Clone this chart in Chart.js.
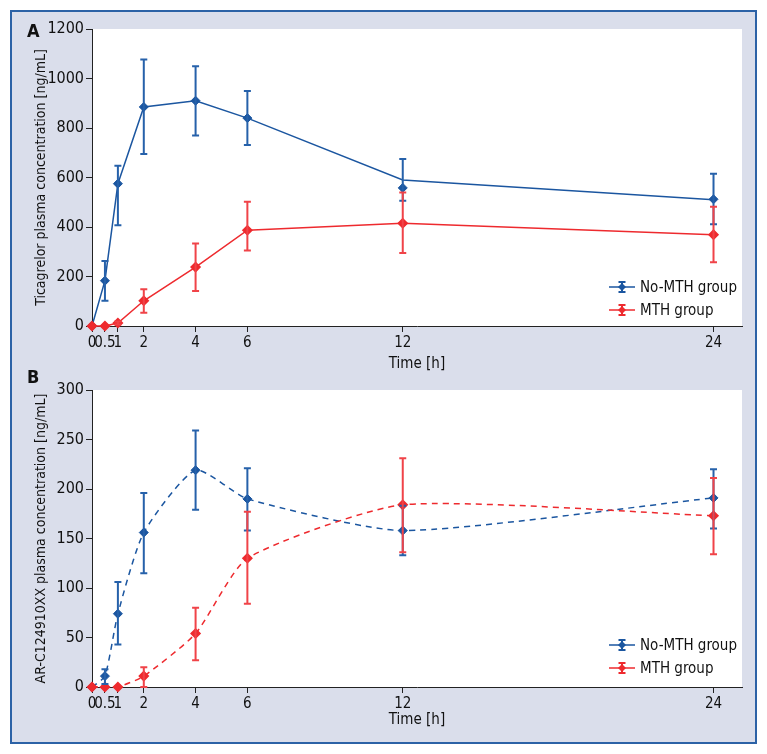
<!DOCTYPE html>
<html>
<head>
<meta charset="utf-8">
<script src="https://cdn.jsdelivr.net/npm/chart.js@4.4.1/dist/chart.umd.min.js"></script>
<style>
  html, body { margin: 0; padding: 0; background: #fff; }
  #page { position: relative; width: 767px; height: 754px; }
  #frame { position: absolute; left: 10px; top: 10px; width: 743px; height: 730px;
           background: #dadeeb; border: 2px solid #2c62a6; }
  .wrap { position: absolute; left: 0; width: 767px; height: 377px; }
  .tag { position: absolute; left: 27px; font: bold 18px "DejaVu Sans Condensed", sans-serif; color: #111; }
</style>
</head>
<body>
<div id="page">
  <div id="frame"></div>
  <div class="wrap" style="top:0"><canvas id="chartA"></canvas></div>
  <div class="wrap" style="top:377px"><canvas id="chartB"></canvas></div>
  <div class="tag" style="top:20px">A</div>
  <div class="tag" style="top:366px">B</div>
</div>
<script>
var FONT = '"DejaVu Sans Condensed", sans-serif';
var BLUE = '#1b56a0';
var RED = '#ee2a2e';

var times = [0, 0.5, 1, 2, 4, 6, 12, 24];
var timeTicks = [0, 0.5, 1, 2, 4, 6, 12, 24];

// panel A - ticagrelor
var noMthLineA = [0, 183, 575, 885, 910, 840, 590, 510];
var noMthA = [0, 183, 575, 885, 910, 840, 558, 512];
var noMthHiA = [0, 263, 647, 1077, 1049, 950, 675, 615];
var noMthLoA = [0, 102, 407, 695, 770, 731, 506, 411];
var mthA = [0, 0, 12, 102, 238, 387, 415, 369];
var mthHiA = [0, 0, 18, 148, 333, 502, 539, 482];
var mthLoA = [0, 0, 6, 54, 141, 305, 295, 258];

// panel B - AR-C124910XX
var noMthB = [0, 11, 74, 156, 219, 190, 158, 191];
var noMthHiB = [0, 18, 106, 196, 259, 221, 183, 220];
var noMthLoB = [0, 3, 43, 115, 179, 158, 133, 160];
var mthB = [0, 0, 0, 11, 54, 130, 184, 173];
var mthHiB = [0, 0, 0, 20, 80, 177, 231, 211];
var mthLoB = [0, 0, 0, 0, 27, 84, 136, 134];

var groups = ['No-MTH group', 'MTH group'];

function pts(ys) {
  return times.map(function(t, i) { return { x: t, y: ys[i] }; });
}

var whiteArea = {
  id: 'whiteArea',
  beforeDraw: function(chart) {
    var a = chart.chartArea, c = chart.ctx;
    c.save();
    c.fillStyle = '#fff';
    c.fillRect(a.left, a.top, a.right - a.left, a.bottom - a.top);
    c.restore();
  }
};

function drawBar(c, x, y1, y2, col) {
  c.strokeStyle = col;
  c.lineWidth = 2;
  c.beginPath();
  c.moveTo(x, y1); c.lineTo(x, y2);
  c.moveTo(x - 3.5, y1); c.lineTo(x + 3.5, y1);
  c.moveTo(x - 3.5, y2); c.lineTo(x + 3.5, y2);
  c.stroke();
}

var errorBars = {
  id: 'errorBars',
  afterDatasetsDraw: function(chart, args, opts) {
    var c = chart.ctx, xs = chart.scales.x, ys = chart.scales.y;
    c.save();
    opts.sets.forEach(function(s) {
      times.forEach(function(t, i) {
        if (s.hi[i] === s.lo[i]) return;
        drawBar(c, xs.getPixelForValue(t), ys.getPixelForValue(s.hi[i]), ys.getPixelForValue(s.lo[i]), s.color);
      });
    });
    c.restore();
  }
};

function diamond(c, x, y, r, col) {
  c.fillStyle = col;
  c.beginPath();
  c.moveTo(x, y - r); c.lineTo(x + r, y); c.lineTo(x, y + r); c.lineTo(x - r, y);
  c.closePath();
  c.fill();
}

var insideLegend = {
  id: 'insideLegend',
  afterDraw: function(chart, args, opts) {
    var c = chart.ctx;
    c.save();
    [BLUE, RED].forEach(function(col, i) {
      var y = opts.y + i * 23;
      c.strokeStyle = col;
      c.lineWidth = 1.5;
      c.beginPath(); c.moveTo(opts.x, y); c.lineTo(opts.x + 26, y); c.stroke();
      drawBar(c, opts.x + 13, y - 5, y + 5, col);
      diamond(c, opts.x + 13, y, 4, col);
      c.fillStyle = '#111';
      c.font = '15px ' + FONT;
      c.textBaseline = 'middle';
      c.fillText(groups[i], opts.x + 31, y + 1);
    });
    c.restore();
  }
};

function makeChart(id, cfg) {
  // red first so it sits on top where the groups meet at t = 0
  var ds = [
    { data: pts(cfg.red), borderColor: RED, borderWidth: 1.5, borderDash: cfg.dash, tension: cfg.tension,
      pointStyle: 'rectRot', pointRadius: 4.5, backgroundColor: RED, pointBorderColor: RED, clip: false },
    { data: pts(cfg.blue), showLine: false, pointStyle: 'rectRot', pointRadius: 4.5,
      backgroundColor: BLUE, borderColor: BLUE, clip: false },
    { data: pts(cfg.blueLine), borderColor: BLUE, borderWidth: 1.5, borderDash: cfg.dash, tension: cfg.tension,
      pointRadius: 0, clip: false }
  ];
  return new Chart(document.getElementById(id), {
    type: 'line',
    data: { datasets: ds },
    plugins: [whiteArea, errorBars, insideLegend],
    options: {
      responsive: false,
      animation: false,
      devicePixelRatio: 1,
      layout: { padding: cfg.padding },
      plugins: {
        legend: { display: false },
        tooltip: { enabled: false },
        errorBars: { sets: [
          { hi: cfg.blueHi, lo: cfg.blueLo, color: '#2661aa' },
          { hi: cfg.redHi, lo: cfg.redLo, color: '#f04348' }
        ] },
        insideLegend: { x: 609, y: cfg.legendY }
      },
      scales: {
        x: {
          type: 'linear', min: 0, max: 25.1,
          afterBuildTicks: function(s) { s.ticks = timeTicks.map(function(v) { return { value: v }; }); },
          afterFit: function(s) { s.height = cfg.xHeight; },
          ticks: { autoSkip: false, maxRotation: 0, minRotation: 0, padding: 2, color: '#111',
                   font: { family: FONT, size: 15 },
                   callback: function(v) { return String(v); } },
          grid: { drawOnChartArea: false, tickLength: 6, color: '#222' },
          border: { color: '#222', width: 1 },
          title: { display: true, text: 'Time [h]', color: '#111', font: { family: FONT, size: 15 } }
        },
        y: {
          min: 0, max: cfg.yMax,
          ticks: { stepSize: cfg.yStep, padding: 2, color: '#111', font: { family: FONT, size: 16 },
                   callback: function(v) { return String(v); } },
          afterFit: function(s) { s.width = 63; },
          grid: { drawOnChartArea: false, tickLength: 6, color: '#222' },
          border: { color: '#222', width: 1 },
          title: { display: true, text: cfg.yTitle, color: '#111', font: { family: FONT, size: 14 } }
        }
      }
    }
  });
}

document.getElementById('chartA').width = 767;
document.getElementById('chartA').height = 377;
document.getElementById('chartB').width = 767;
document.getElementById('chartB').height = 377;

makeChart('chartA', {
  blueLine: noMthLineA, blue: noMthA, blueHi: noMthHiA, blueLo: noMthLoA,
  red: mthA, redHi: mthHiA, redLo: mthLoA,
  dash: [], tension: 0, yMax: 1200, yStep: 200,
  yTitle: 'Ticagrelor plasma concentration [ng/mL]',
  padding: { left: 29, right: 25, top: 29, bottom: 0 }, xHeight: 51, legendY: 287
});

makeChart('chartB', {
  blueLine: noMthB, blue: noMthB, blueHi: noMthHiB, blueLo: noMthLoB,
  red: mthB, redHi: mthHiB, redLo: mthLoB,
  dash: [6, 5], tension: 0.2, yMax: 300, yStep: 50,
  yTitle: 'AR-C124910XX plasma concentration [ng/mL]',
  padding: { left: 29, right: 25, top: 13, bottom: 21 }, xHeight: 46, legendY: 268
});
</script>
</body>
</html>
